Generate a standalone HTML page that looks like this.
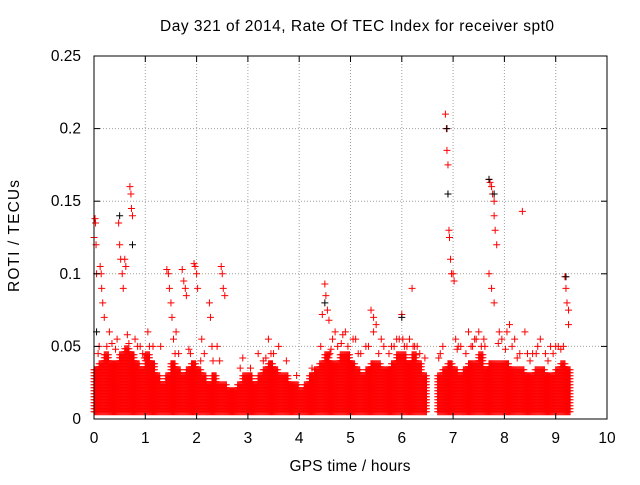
<!DOCTYPE html>
<html><head><meta charset="utf-8"><style>
body{margin:0;background:#fff}
svg text{font-family:"Liberation Sans",sans-serif;font-size:15.5px;fill:#000}
</style></head><body>
<svg id="c" width="640" height="480">
<rect width="640" height="480" fill="#fff"/>
<g id="grid"></g><g id="marks"></g><g id="axes"></g>
<text x="357" y="31" text-anchor="middle" textLength="394">Day 321 of 2014, Rate Of TEC Index for receiver spt0</text>
<text x="350" y="471" text-anchor="middle" textLength="121">GPS time / hours</text>
<text transform="translate(19,236) rotate(-90)" text-anchor="middle" textLength="112">ROTI / TECUs</text>
</svg>
<script>
const xTicks=[0,1,2,3,4,5,6,7,8,9,10];
const yTicks=[0,0.05,0.1,0.15,0.2,0.25];
const yTickLabels=["0","0.05","0.1","0.15","0.2","0.25"];
const binTimes=[0,0.1,0.2,0.3,0.4,0.5,0.6,0.7,0.8,0.9,1.0,1.1,1.2,1.3,1.4,1.5,1.6,1.7,1.8,1.9,2.0,2.1,2.2,2.3,2.4,2.5,2.6,2.7,2.8,2.9,3.0,3.1,3.2,3.3,3.4,3.5,3.6,3.7,3.8,3.9,4.0,4.1,4.2,4.3,4.4,4.5,4.6,4.7,4.8,4.9,5.0,5.1,5.2,5.3,5.4,5.5,5.6,5.7,5.8,5.9,6.0,6.1,6.2,6.3,6.4,6.5,6.6,6.7,6.8,6.9,7.0,7.1,7.2,7.3,7.4,7.5,7.6,7.7,7.8,7.9,8.0,8.1,8.2,8.3,8.4,8.5,8.6,8.7,8.8,8.9,9.0,9.1,9.2];
const binTops=[0.035,0.04,0.045,0.04,0.04,0.045,0.05,0.045,0.04,0.035,0.045,0.04,0.03,0.025,0.03,0.04,0.035,0.03,0.035,0.04,0.035,0.03,0.025,0.03,0.025,0.025,0.02,0.02,0.025,0.03,0.03,0.025,0.03,0.035,0.04,0.035,0.03,0.03,0.025,0.025,0.02,0.025,0.03,0.035,0.04,0.045,0.04,0.04,0.045,0.045,0.04,0.035,0.03,0.035,0.04,0.04,0.035,0.035,0.04,0.045,0.045,0.04,0.045,0.04,0.03,0,0,0.03,0.035,0.04,0.035,0.03,0.035,0.04,0.04,0.045,0.035,0.04,0.04,0.04,0.04,0.035,0.035,0.035,0.03,0.03,0.035,0.035,0.03,0.03,0.035,0.04,0.035];
const binBottom=0.005;
const redT=[0.0,0.02,0.03,0.04,0.05,0.12,0.14,0.15,0.17,0.2,0.48,0.5,0.52,0.55,0.57,0.6,0.62,0.7,0.72,0.73,0.75,1.42,1.45,1.47,1.5,1.52,1.72,1.75,1.78,1.8,1.95,1.97,2.0,2.02,2.25,2.27,2.48,2.5,2.52,2.55,2.9,3.4,4.45,4.5,4.52,4.55,4.58,5.4,5.45,5.5,6.0,6.2,6.85,6.87,6.88,6.9,6.9,6.92,6.93,6.95,6.97,7.0,7.02,7.7,7.72,7.75,7.77,7.8,7.8,7.82,7.85,7.7,7.75,7.8,8.35,9.18,9.2,9.22,9.25,9.25,
0.3,0.45,0.8,0.9,1.05,1.6,2.1,2.3,3.2,3.6,4.7,4.9,5.1,5.6,5.9,6.3,6.8,7.3,7.5,7.9,8.1,8.4,8.7,9.0,0.25,0.85,1.3,2.4,3.5,4.6,5.3,6.1,7.1,7.6,8.2,8.9,
0.1,0.35,0.65,0.95,1.15,1.55,1.65,1.85,2.15,2.45,2.85,3.05,3.3,3.45,3.75,4.35,4.65,4.75,4.85,5.05,5.2,5.35,5.65,5.75,5.85,5.95,6.05,6.15,6.25,6.35,6.75,7.05,7.15,7.25,7.35,7.45,7.55,7.95,8.05,8.15,8.3,8.45,8.55,8.65,8.8,8.95,9.05,9.15,
0.08,0.42,0.68,0.98,1.08,1.58,1.88,2.08,2.32,3.35,3.95,4.25,4.42,4.62,4.82,4.95,5.15,5.45,5.55,5.8,6.02,6.22,6.45,6.72,7.08,7.38,7.42,7.62,7.88,8.02,8.25,8.5,8.62,8.85,9.1];
const redV=[0.125,0.138,0.135,0.12,0.1,0.105,0.1,0.09,0.08,0.07,0.135,0.12,0.11,0.1,0.09,0.11,0.105,0.16,0.155,0.145,0.14,0.103,0.1,0.09,0.08,0.07,0.103,0.095,0.09,0.085,0.107,0.105,0.1,0.09,0.08,0.07,0.105,0.1,0.09,0.085,0.042,0.055,0.072,0.093,0.085,0.075,0.068,0.075,0.07,0.065,0.072,0.09,0.21,0.2,0.185,0.175,0.155,0.13,0.125,0.11,0.1,0.1,0.095,0.165,0.163,0.16,0.155,0.15,0.14,0.13,0.12,0.1,0.09,0.08,0.143,0.098,0.09,0.08,0.075,0.065,
0.06,0.055,0.055,0.05,0.06,0.06,0.055,0.05,0.045,0.05,0.06,0.06,0.055,0.055,0.055,0.05,0.05,0.06,0.06,0.06,0.065,0.06,0.055,0.05,0.05,0.05,0.05,0.05,0.045,0.045,0.05,0.05,0.05,0.055,0.055,0.05,
0.05,0.052,0.058,0.045,0.05,0.055,0.045,0.048,0.045,0.04,0.035,0.035,0.04,0.045,0.04,0.03,0.055,0.05,0.058,0.055,0.045,0.05,0.05,0.045,0.05,0.055,0.05,0.055,0.05,0.045,0.045,0.055,0.05,0.045,0.05,0.055,0.05,0.055,0.06,0.05,0.045,0.045,0.045,0.05,0.045,0.045,0.05,0.05,
0.045,0.048,0.052,0.042,0.05,0.045,0.045,0.04,0.04,0.042,0.03,0.035,0.05,0.048,0.052,0.05,0.045,0.06,0.045,0.05,0.055,0.05,0.042,0.042,0.048,0.05,0.055,0.05,0.052,0.048,0.042,0.04,0.045,0.04,0.048];
const blackT=[0.5,0.75,6.88,6.9,7.7,7.8,9.2,0.05,6.0,4.5];
const blackV=[0.14,0.12,0.2,0.155,0.165,0.155,0.098,0.06,0.07,0.08];
const X0=94,X1=607,Y0=419,Y1=56;
const xs=t=>X0+(X1-X0)*t/10, ys=v=>Y0-(Y0-Y1)*v/0.25;
const NS="http://www.w3.org/2000/svg";
function mk(tag,attrs,parent){const e=document.createElementNS(NS,tag);for(const k in attrs)e.setAttribute(k,attrs[k]);parent.appendChild(e);return e;}
const grid=document.getElementById('grid'),marks=document.getElementById('marks'),axes=document.getElementById('axes');
xTicks.forEach((t,i)=>{const x=xs(t);
 if(i>0&&i<xTicks.length-1){const g=mk('line',{x1:x,x2:x,y1:Y0,y2:Y1,stroke:'#a0a0a0','stroke-dasharray':'1,2'},grid);
 
 }
 mk('line',{x1:x,x2:x,y1:Y0,y2:Y0-6,stroke:'#000'},axes);mk('line',{x1:x,x2:x,y1:Y1,y2:Y1+6,stroke:'#000'},axes);
 const l=mk('text',{x:x,y:Y0+24,'text-anchor':'middle'},axes);l.textContent=t;
 
 });
yTicks.forEach((v,i)=>{const y=ys(v);
 if(i>0&&i<yTicks.length-1){const g=mk('line',{x1:X0,x2:X1,y1:y,y2:y,stroke:'#a0a0a0','stroke-dasharray':'1,2'},grid);
 
 }
 mk('line',{x1:X0,x2:X0+6,y1:y,y2:y,stroke:'#000'},axes);mk('line',{x1:X1,x2:X1-6,y1:y,y2:y,stroke:'#000'},axes);
 const l=mk('text',{x:X0-13,y:y+5,'text-anchor':'end'},axes);l.textContent=yTickLabels[i];
 
 });
const fr=mk('rect',{x:X0,y:Y1,width:X1-X0,height:Y0-Y1,fill:'none',stroke:'#000'},axes);


function plus(x,y,col,name){const p=mk('path',{d:`M${x-3.5},${y}h7M${x},${y-3.5}v7`,stroke:col,'stroke-width':1},marks);
 
 }
binTimes.forEach((t,i)=>{const top=binTops[i];if(top<=0)return;
 for(let dx=0;dx<5;dx++){const x=xs(t+dx*0.02);
  for(let y=ys(binBottom);y>=ys(top);y-=3){plus(x,y,'#f00','dense-point');}}});
redT.forEach((t,i)=>plus(xs(t),ys(redV[i]),'#f00','roti-point'));
blackT.forEach((t,i)=>plus(xs(t),ys(blackV[i]),'#000','roti-point-black'));
</script>
</body></html>
